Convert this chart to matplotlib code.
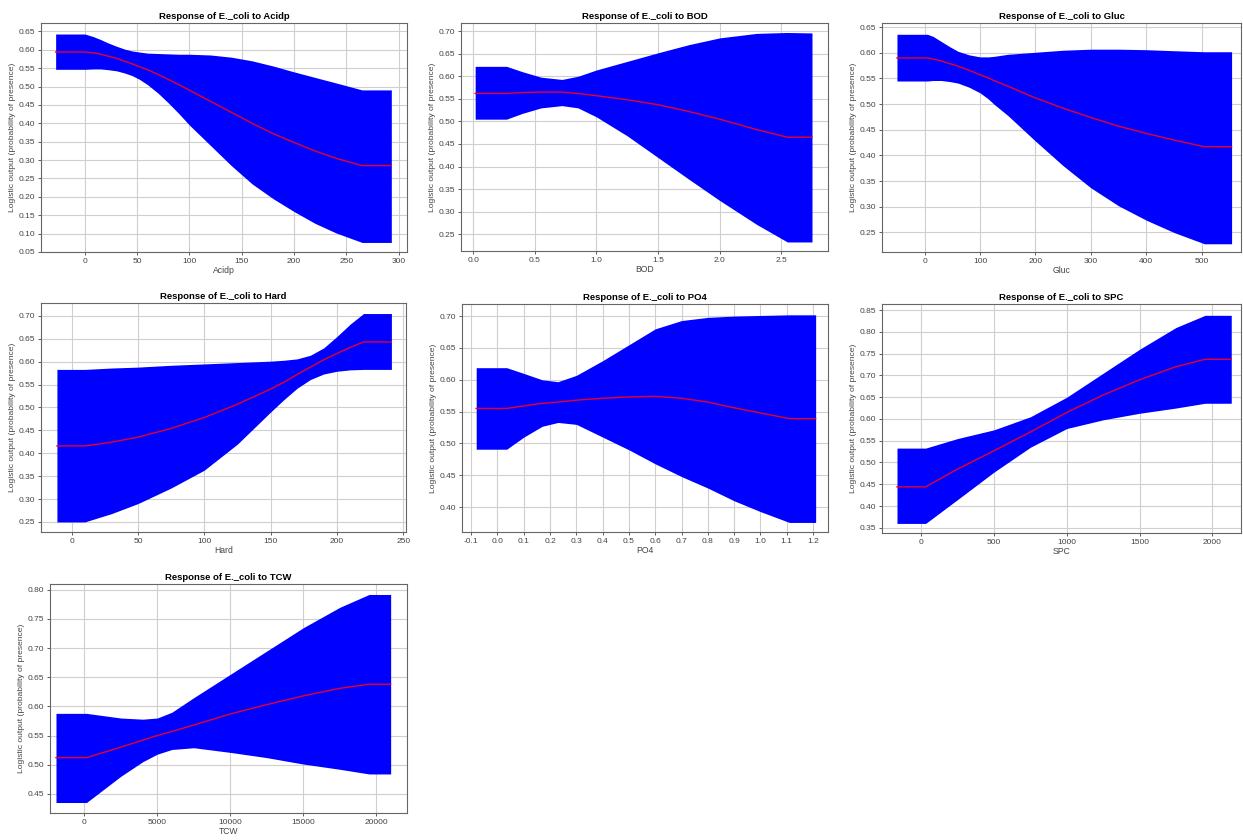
import numpy as np
import matplotlib
matplotlib.use('Agg')
import matplotlib.pyplot as plt

plt.rcParams['font.family'] = ['Liberation Sans', 'DejaVu Sans']
plt.rcParams['axes.unicode_minus'] = False

# ── Data ─────────────────────────────────────────────────────────────────────
acidp_x     = [-28, 0, 8, 15, 22, 30, 38, 45, 52, 60, 70, 80, 90, 100, 120, 140, 160, 180, 200, 220, 240, 265, 293]
acidp_upper = [0.643, 0.643, 0.636, 0.628, 0.619, 0.610, 0.602, 0.597, 0.594, 0.591, 0.590, 0.589, 0.588, 0.588, 0.586, 0.580, 0.570, 0.556, 0.540, 0.525, 0.510, 0.491, 0.491]
acidp_mean  = [0.594, 0.594, 0.592, 0.588, 0.583, 0.577, 0.569, 0.562, 0.554, 0.546, 0.533, 0.519, 0.505, 0.490, 0.460, 0.430, 0.400, 0.372, 0.348, 0.325, 0.305, 0.285, 0.285]
acidp_lower = [0.547, 0.547, 0.548, 0.548, 0.546, 0.543, 0.537, 0.530, 0.520, 0.505, 0.482, 0.455, 0.426, 0.395, 0.340, 0.285, 0.235, 0.195, 0.160, 0.128, 0.102, 0.076, 0.076]

bod_x     = [0.015, 0.27, 0.40, 0.55, 0.72, 0.85, 1.0, 1.25, 1.5, 1.75, 2.0, 2.3, 2.55, 2.75]
bod_upper = [0.622, 0.622, 0.610, 0.598, 0.593, 0.600, 0.614, 0.633, 0.652, 0.670, 0.685, 0.695, 0.697, 0.696]
bod_mean  = [0.562, 0.562, 0.564, 0.565, 0.565, 0.562, 0.557, 0.548, 0.537, 0.522, 0.505, 0.482, 0.465, 0.465]
bod_lower = [0.505, 0.505, 0.518, 0.530, 0.535, 0.530, 0.510, 0.468, 0.420, 0.372, 0.325, 0.272, 0.233, 0.233]

gluc_x     = [-50, 5, 15, 30, 45, 60, 80, 100, 115, 125, 150, 200, 250, 300, 350, 400, 450, 505, 554]
gluc_upper = [0.636, 0.636, 0.632, 0.622, 0.612, 0.603, 0.596, 0.592, 0.592, 0.593, 0.597, 0.601, 0.605, 0.607, 0.607, 0.606, 0.604, 0.602, 0.602]
gluc_mean  = [0.590, 0.590, 0.588, 0.584, 0.579, 0.574, 0.566, 0.557, 0.551, 0.546, 0.535, 0.512, 0.492, 0.474, 0.457, 0.443, 0.430, 0.417, 0.417]
gluc_lower = [0.545, 0.545, 0.546, 0.546, 0.544, 0.541, 0.533, 0.522, 0.510, 0.500, 0.478, 0.428, 0.380, 0.337, 0.302, 0.274, 0.250, 0.228, 0.228]

hard_x     = [-11, 10, 30, 50, 75, 100, 125, 150, 160, 170, 180, 190, 200, 210, 220, 241]
hard_upper = [0.583, 0.583, 0.586, 0.588, 0.592, 0.595, 0.598, 0.601, 0.603, 0.606, 0.614, 0.630, 0.655, 0.682, 0.705, 0.705]
hard_mean  = [0.416, 0.416, 0.424, 0.435, 0.454, 0.478, 0.507, 0.540, 0.555, 0.572, 0.588, 0.604, 0.618, 0.631, 0.643, 0.643]
hard_lower = [0.250, 0.250, 0.268, 0.290, 0.324, 0.363, 0.420, 0.490, 0.517, 0.542, 0.561, 0.573, 0.579, 0.582, 0.583, 0.583]

po4_x     = [-0.081, 0.035, 0.10, 0.17, 0.23, 0.30, 0.40, 0.50, 0.60, 0.70, 0.80, 0.90, 1.00, 1.11, 1.21]
po4_upper = [0.619, 0.619, 0.610, 0.600, 0.597, 0.607, 0.630, 0.655, 0.680, 0.693, 0.698, 0.700, 0.701, 0.702, 0.702]
po4_mean  = [0.555, 0.555, 0.559, 0.563, 0.565, 0.568, 0.571, 0.573, 0.574, 0.571, 0.565, 0.556, 0.548, 0.539, 0.539]
po4_lower = [0.491, 0.491, 0.510, 0.527, 0.533, 0.530, 0.510, 0.490, 0.468, 0.448, 0.430, 0.410, 0.393, 0.376, 0.376]

spc_x     = [-167, 30, 250, 500, 750, 1000, 1250, 1500, 1750, 1950, 2130]
spc_upper = [0.533, 0.533, 0.555, 0.575, 0.605, 0.650, 0.705, 0.760, 0.810, 0.838, 0.838]
spc_mean  = [0.444, 0.444, 0.485, 0.527, 0.570, 0.615, 0.655, 0.690, 0.720, 0.737, 0.737]
spc_lower = [0.360, 0.360, 0.415, 0.478, 0.535, 0.578, 0.598, 0.613, 0.625, 0.636, 0.636]

tcw_x     = [-1940, 150, 2500, 4000, 5000, 6000, 7500, 10000, 12500, 15000, 17500, 19500, 20980]
tcw_upper = [0.588, 0.588, 0.580, 0.578, 0.580, 0.590, 0.615, 0.655, 0.695, 0.735, 0.770, 0.792, 0.792]
tcw_mean  = [0.512, 0.512, 0.530, 0.542, 0.550, 0.557, 0.568, 0.587, 0.603, 0.618, 0.631, 0.638, 0.638]
tcw_lower = [0.435, 0.435, 0.480, 0.505, 0.518, 0.526, 0.529, 0.521, 0.512, 0.501, 0.492, 0.484, 0.484]

# ── Panel setup: name, data, limits, ticks, pixel box (left, right, top, bottom) ──
W, H = 1243, 840
panels = [
    ("Acidp", acidp_x, acidp_upper, acidp_mean, acidp_lower,
     (-42, 308), (0.05, 0.673), np.arange(0, 301, 50), np.arange(0.05, 0.66, 0.05), "%d",
     (41, 407, 23, 252)),
    ("BOD", bod_x, bod_upper, bod_mean, bod_lower,
     (-0.10, 2.88), (0.213, 0.718), np.arange(0, 2.51, 0.5), np.arange(0.25, 0.71, 0.05), "%.1f",
     (461, 828, 23, 251)),
    ("Gluc", gluc_x, gluc_upper, gluc_mean, gluc_lower,
     (-77, 571), (0.212, 0.658), np.arange(0, 501, 100), np.arange(0.25, 0.66, 0.05), "%d",
     (882, 1241, 23, 252)),
    ("Hard", hard_x, hard_upper, hard_mean, hard_lower,
     (-23, 252), (0.228, 0.728), np.arange(0, 251, 50), np.arange(0.25, 0.71, 0.05), "%d",
     (41, 406, 303, 532)),
    ("PO4", po4_x, po4_upper, po4_mean, po4_lower,
     (-0.135, 1.257), (0.361, 0.719), np.arange(-0.1, 1.21, 0.1), np.arange(0.40, 0.71, 0.05), "%.1f",
     (462, 828, 304, 532)),
    ("SPC", spc_x, spc_upper, spc_mean, spc_lower,
     (-270, 2197), (0.338, 0.864), np.arange(0, 2001, 500), np.arange(0.35, 0.86, 0.05), "%d",
     (882, 1241, 304, 533)),
    ("TCW", tcw_x, tcw_upper, tcw_mean, tcw_lower,
     (-2350, 22100), (0.417, 0.810), np.arange(0, 20001, 5000), np.arange(0.45, 0.81, 0.05), "%d",
     (50, 407, 584, 813)),
]

fig = plt.figure(figsize=(W / 100, H / 100), dpi=100)
fig.patch.set_facecolor('white')

for (name, x, up, mean, lo, xlim, ylim, xt, yt, xfmt, box) in panels:
    l, r, t, b = box
    ax = fig.add_axes([l / W, 1 - b / H, (r - l) / W, (b - t) / H])
    ax.fill_between(x, lo, up, color='#0000ff', linewidth=0, zorder=2)
    ax.plot(x, mean, color='#e8002a', linewidth=1.0, zorder=3)
    ax.set_xlim(*xlim)
    ax.set_ylim(*ylim)
    ax.set_xticks(xt)
    ax.set_xticklabels([xfmt % v if xfmt == "%d" else ("%.1f" % v).replace("-0.0", "0.0") for v in xt])
    ax.set_yticks(yt)
    ax.set_yticklabels(["%.2f" % v for v in yt])
    ax.grid(True, color='#cfcfcf', linewidth=0.8, zorder=0)
    ax.set_axisbelow(True)
    ax.tick_params(length=2, width=0.6, colors='#444444', labelsize=6, pad=2)
    for sp in ax.spines.values():
        sp.set_color('#666666')
        sp.set_linewidth(0.8)
    ax.set_title("Response of E._coli to " + name, fontsize=6.8, fontweight='bold', pad=3)
    ax.set_xlabel(name, fontsize=6.2, color='#444444', labelpad=1)
    ax.set_ylabel("Logistic output (probability of presence)", fontsize=6.1,
                  color='#444444', labelpad=2)

plt.savefig("out.png", dpi=100)
